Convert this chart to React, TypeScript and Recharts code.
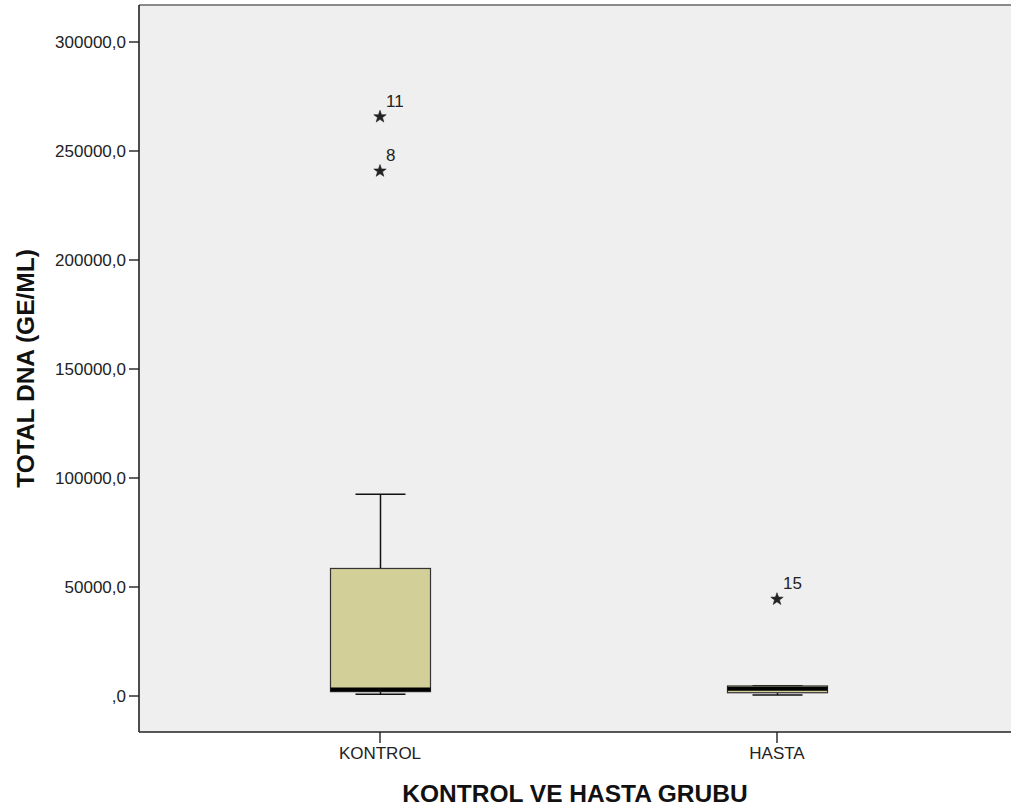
import React from 'react';
import { ComposedChart, Bar, Scatter, XAxis, YAxis, CartesianGrid, ReferenceLine, Label } from 'recharts';

// ---- data ----
const categories = ['KONTROL', 'HASTA'];
const positions = [1, 2];
const whiskerLow = [800, 500];
const q1 = [2000, 1500];
const median = [3000, 3300];
const q3 = [58500, 4600];
const whiskerHigh = [92500, 4700];
const outlierGroup = [0, 0, 1];
const outlierValue = [265700, 240800, 44400];
const outlierCase = ['11', '8', '15'];
const yTicks = [0, 50000, 100000, 150000, 200000, 250000, 300000];

// ---- layout config ----
const X_DOMAIN: [number, number] = [0.39295, 2.58942];
const Y_DOMAIN: [number, number] = [-16514, 316972];
const FONT = '"Liberation Sans", Arial, sans-serif';
const BOX_FILL = '#d3cf99';
const PLOT_BG = '#efefef';

const boxData = categories.map((c, i) => ({
  x: positions[i],
  name: c,
  base: q1[i],
  box: q3[i] - q1[i],
  lo: whiskerLow[i],
  q1: q1[i],
  med: median[i],
  q3: q3[i],
  hi: whiskerHigh[i],
}));

const outlierData = outlierValue.map((v, i) => ({
  x: positions[outlierGroup[i]],
  value: v,
  label: outlierCase[i],
}));

const BoxShape = (props: any) => {
  const { x, y, width, height, payload } = props;
  if (!payload) return null;
  const k = height / (payload.q3 - payload.q1);
  const bottom = y + height;
  const py = (v: number) => bottom - (v - payload.q1) * k;
  const cx = x + width / 2;
  const half = width / 4;
  const stroke = '#111';
  return (
    <g>
      <line x1={cx} x2={cx} y1={py(payload.q3)} y2={py(payload.hi)} stroke={stroke} strokeWidth={1.5} />
      <line x1={cx - half} x2={cx + half} y1={py(payload.hi)} y2={py(payload.hi)} stroke={stroke} strokeWidth={1.5} />
      <line x1={cx} x2={cx} y1={py(payload.q1)} y2={py(payload.lo)} stroke={stroke} strokeWidth={1.5} />
      <line x1={cx - half} x2={cx + half} y1={py(payload.lo)} y2={py(payload.lo)} stroke={stroke} strokeWidth={1.5} />
      <rect x={x} y={y} width={width} height={height} fill={BOX_FILL} stroke="#333" strokeWidth={1.2} />
      <line x1={x} x2={x + width} y1={py(payload.med)} y2={py(payload.med)} stroke="#000" strokeWidth={4} />
    </g>
  );
};

const StarShape = (props: any) => {
  const { cx, cy, payload } = props;
  if (cx == null || cy == null) return null;
  const pts: string[] = [];
  for (let i = 0; i < 10; i++) {
    const r = i % 2 === 0 ? 6.5 : 2.6;
    const a = -Math.PI / 2 + (i * Math.PI) / 5;
    pts.push(`${cx + r * Math.cos(a)},${cy + r * Math.sin(a)}`);
  }
  return (
    <g>
      <polygon points={pts.join(' ')} fill="#222" stroke="#222" strokeWidth={0.6} />
      <text x={cx + 6} y={cy - 10} fontSize={17} fontFamily={FONT} fill="#222">
        {payload?.label}
      </text>
    </g>
  );
};

const YTitle = (props: any) => {
  const vb = props.viewBox || {};
  const x = 25;
  const y = (vb.y ?? 5) + (vb.height ?? 727) / 2;
  return (
    <text
      x={x}
      y={y}
      transform={`rotate(-90, ${x}, ${y})`}
      textAnchor="middle"
      dominantBaseline="central"
      fontFamily={FONT}
      fontWeight="bold"
      fontSize={24.5}
      fill="#111"
    >
      TOTAL DNA (GE/ML)
    </text>
  );
};

const fmtY = (v: number) => (v === 0 ? ',0' : `${v},0`);
const fmtX = (v: number) => categories[positions.indexOf(v)] ?? '';

export default function App() {
  return (
    <div style={{ position: 'absolute', left: 0, top: 0, width: 1011, height: 809, background: '#fff', overflow: 'hidden' }}>
      <ComposedChart
        width={1011}
        height={809}
        data={boxData}
        margin={{ top: 5, right: 0, bottom: 0, left: 0 }}
      >
        <CartesianGrid fill={PLOT_BG} horizontal={false} vertical={false} stroke="none" />
        <XAxis
          type="number"
          dataKey="x"
          domain={X_DOMAIN}
          allowDataOverflow
          ticks={positions}
          tickFormatter={fmtX}
          height={77}
          tickSize={11}
          tickMargin={4}
          axisLine={{ stroke: '#222', strokeWidth: 1.6 }}
          tickLine={{ stroke: '#222', strokeWidth: 1.4 }}
          tick={{ fill: '#222', fontSize: 17, fontFamily: FONT }}
        >
          <Label
            value="KONTROL VE HASTA GRUBU"
            position="insideBottom"
            offset={7}
            style={{ fontFamily: FONT, fontWeight: 'bold', fontSize: 24.5, fill: '#111' }}
          />
        </XAxis>
        <YAxis
          type="number"
          domain={Y_DOMAIN}
          allowDataOverflow
          ticks={yTicks}
          interval={0}
          tickFormatter={fmtY}
          width={139}
          tickSize={10}
          tickMargin={3}
          axisLine={{ stroke: '#222', strokeWidth: 1.6 }}
          tickLine={{ stroke: '#222', strokeWidth: 1.4 }}
          tick={{ fill: '#222', fontSize: 17, fontFamily: FONT }}
        >
          <Label content={<YTitle />} />
        </YAxis>
        <ReferenceLine y={Y_DOMAIN[1]} stroke="#8a8a8a" strokeWidth={2} ifOverflow="extendDomain" />
        <Bar dataKey="base" stackId="b" fill="none" barSize={100} isAnimationActive={false} />
        <Bar dataKey="box" stackId="b" barSize={100} shape={<BoxShape />} isAnimationActive={false} />
        <Scatter data={outlierData} dataKey="value" shape={<StarShape />} isAnimationActive={false} />
      </ComposedChart>
    </div>
  );
}
